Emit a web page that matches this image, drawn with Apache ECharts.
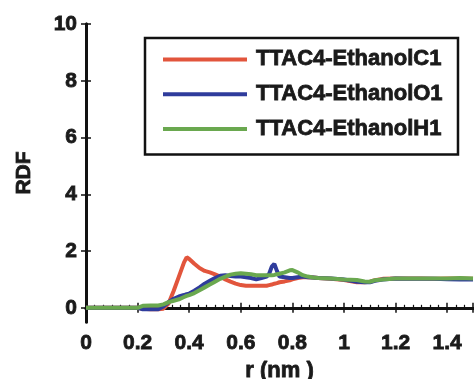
<!DOCTYPE html>
<html>
<head>
<meta charset="utf-8">
<script src="https://cdn.jsdelivr.net/npm/echarts@6/dist/echarts.min.js"></script>
<style>
  html, body { margin: 0; padding: 0; background: #fff; }
  #rdfChart { width: 474px; height: 379px; }
</style>
</head>
<body>
<div id="rdfChart"></div>
<script>
// r (nm) sample points shared by all three curves
const rValues = [0, 0.05, 0.1, 0.15, 0.2, 0.22, 0.25, 0.28, 0.3, 0.32, 0.34, 0.36, 0.38, 0.39, 0.4,
  0.42, 0.44, 0.46, 0.48, 0.5, 0.52, 0.54, 0.56, 0.58, 0.6, 0.62, 0.64, 0.66, 0.68, 0.7,
  0.71, 0.72, 0.73, 0.74, 0.75, 0.77, 0.79, 0.8, 0.82, 0.84, 0.86, 0.88, 0.9, 0.95, 1.0,
  1.05, 1.08, 1.1, 1.12, 1.15, 1.2, 1.25, 1.3, 1.35, 1.4, 1.45, 1.5];

const rdfC1 = [0, 0, 0, 0, 0, -0.03, -0.05, -0.05, -0.03, 0.15, 0.6, 1.1, 1.6, 1.78, 1.72,
  1.55, 1.4, 1.3, 1.25, 1.18, 1.1, 1.0, 0.92, 0.85, 0.8, 0.78, 0.78, 0.78, 0.78, 0.78,
  0.8, 0.82, 0.85, 0.87, 0.9, 0.93, 0.97, 1.0, 1.05, 1.08, 1.08, 1.07, 1.05, 1.02, 0.98,
  0.9, 0.9, 0.92, 0.97, 1.02, 1.03, 1.03, 1.03, 1.02, 1.03, 1.03, 1.02];

const rdfO1 = [0, 0, 0, 0, 0, -0.05, -0.05, -0.05, 0.05, 0.2, 0.32, 0.4, 0.45, 0.48, 0.5,
  0.6, 0.72, 0.85, 0.95, 1.05, 1.13, 1.15, 1.12, 1.1, 1.1, 1.08, 1.05, 1.0, 1.05, 1.1,
  1.2, 1.45, 1.55, 1.3, 1.1, 1.08, 1.05, 1.05, 1.08, 1.1, 1.08, 1.07, 1.05, 1.03, 1.0,
  0.92, 0.9, 0.9, 0.95, 1.0, 1.03, 1.02, 1.02, 1.02, 1.01, 1.0, 1.0];

const rdfH1 = [0, 0, 0, 0, 0, 0.07, 0.08, 0.08, 0.12, 0.2, 0.25, 0.3, 0.38, 0.42, 0.45,
  0.52, 0.62, 0.72, 0.82, 0.92, 1.02, 1.1, 1.17, 1.2, 1.22, 1.2, 1.18, 1.15, 1.15, 1.15,
  1.15, 1.15, 1.16, 1.18, 1.2, 1.25, 1.32, 1.33, 1.25, 1.15, 1.1, 1.07, 1.05, 1.03, 1.0,
  0.98, 0.93, 0.92, 0.97, 1.0, 1.03, 1.03, 1.03, 1.03, 1.03, 1.05, 1.03];

const seriesNames = ['TTAC4-EthanolC1', 'TTAC4-EthanolO1', 'TTAC4-EthanolH1'];
const seriesColors = ['#e2553c', '#2f3c9c', '#6aa84f'];
const yTicks = [0, 2, 4, 6, 8, 10];

const pairs = (ys) => rValues.map((r, i) => [r, ys[i]]);

const myChart = echarts.init(document.getElementById('rdfChart'));

const font = 'Liberation Sans, Arial, sans-serif';
const axisLine = {show: true, lineStyle: {color: '#111', width: 3}};
// heavy bold look of the scanned figure: bold face plus a thin outline of the same colour
const heavy = (size) => ({
  fontFamily: font, fontWeight: 'bold', fontSize: size, color: '#1a1a1a',
  textBorderColor: '#1a1a1a', textBorderWidth: 0.8
});

const option = {
  animation: false,
  backgroundColor: '#fff',
  grid: {left: 86, top: 24, right: 1, bottom: 57, containLabel: false, outerBoundsMode: 'none'},
  legend: {
    orient: 'vertical',
    left: 145,
    top: 38,
    padding: [10, 15, 14, 18],
    itemGap: 12,
    itemWidth: 84,
    itemHeight: 4,
    borderColor: '#111',
    borderWidth: 2.5,
    icon: 'rect',
    data: seriesNames,
    textStyle: Object.assign(heavy(22), {padding: [0, 0, 0, 4]})
  },
  xAxis: [
    {
      type: 'value', min: 0, max: 1.5, interval: 0.2,
      name: 'r (nm )', nameLocation: 'middle', nameGap: 36,
      nameTextStyle: heavy(22),
      axisLine: axisLine,
      axisTick: {inside: true, length: 5, lineStyle: {color: '#111', width: 1.5}},
      minorTick: {show: true, splitNumber: 6, length: 3, lineStyle: {color: '#111', width: 1.2}},
      axisLabel: Object.assign({margin: 11, showMaxLabel: false}, heavy(21)),
      splitLine: {show: false}
    },
    {
      type: 'value', min: 0, max: 1.5, interval: 0.2, position: 'top',
      axisLine: axisLine,
      axisTick: {inside: true, length: 5, lineStyle: {color: '#111', width: 1.5}},
      axisLabel: {show: false},
      splitLine: {show: false}
    }
  ],
  yAxis: [
    {
      type: 'value', min: -0.5, max: 10,
      name: 'RDF', nameLocation: 'middle', nameGap: 51,
      nameTextStyle: heavy(21),
      axisLine: axisLine,
      axisTick: {inside: true, length: 5, customValues: yTicks, lineStyle: {color: '#111', width: 1.5}},
      axisLabel: Object.assign({margin: 9, customValues: yTicks}, heavy(21)),
      splitLine: {show: false}
    },
    {
      type: 'value', min: -0.5, max: 10, position: 'right',
      axisLine: axisLine,
      axisTick: {inside: true, length: 5, customValues: yTicks, lineStyle: {color: '#111', width: 1.5}},
      axisLabel: {show: false},
      splitLine: {show: false}
    }
  ],
  series: [rdfC1, rdfO1, rdfH1].map((ys, i) => ({
    name: seriesNames[i],
    type: 'line',
    xAxisIndex: 0,
    yAxisIndex: 0,
    data: pairs(ys),
    showSymbol: false,
    smooth: false,
    color: seriesColors[i],
    lineStyle: {width: 4, color: seriesColors[i]}
  }))
};

myChart.setOption(option);
</script>
</body>
</html>
